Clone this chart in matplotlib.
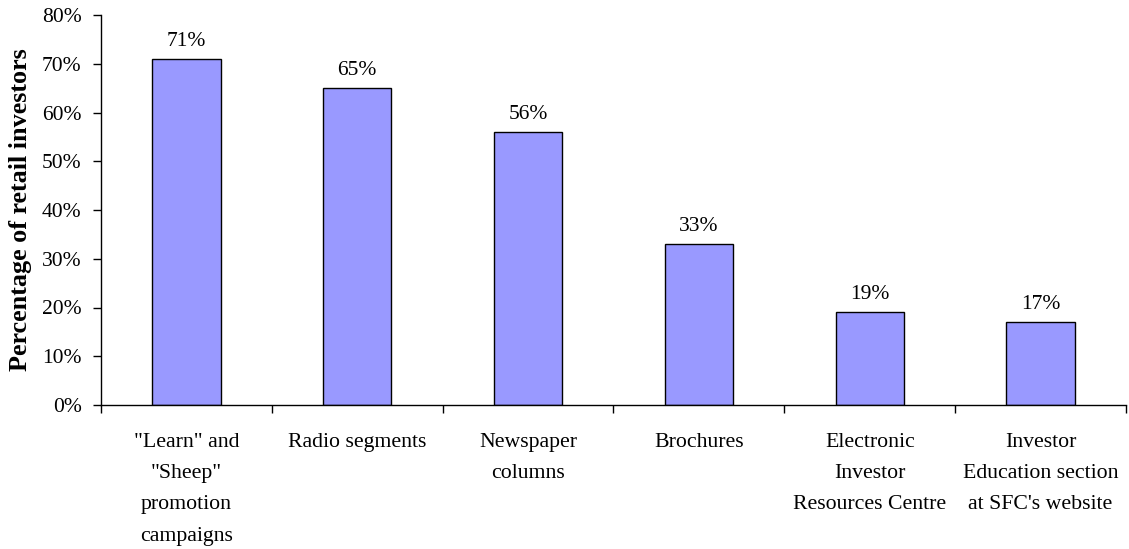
import matplotlib
matplotlib.use("Agg")
import matplotlib.pyplot as plt
from matplotlib.ticker import PercentFormatter, FixedLocator

categories = [
    '"Learn" and\n"Sheep"\npromotion\ncampaigns',
    'Radio segments',
    'Newspaper\ncolumns',
    'Brochures',
    'Electronic\nInvestor\nResources Centre',
    'Investor\nEducation section\nat SFC\'s website',
]
values = [71, 65, 56, 33, 19, 17]
y_ticks = [0, 10, 20, 30, 40, 50, 60, 70, 80]

plt.rcParams['font.family'] = ['Liberation Serif', 'DejaVu Serif']

fig = plt.figure(figsize=(11.29, 5.49), dpi=100)
ax = fig.add_axes([101 / 1129, 1 - 405 / 549, 1025 / 1129, 390 / 549])

x = list(range(len(categories)))
bars = ax.bar(x, values, width=0.4, color='#9999FF', edgecolor='black', linewidth=1.0)

for xi, v in zip(x, values):
    ax.annotate(f'{v}%', (xi, v), xytext=(0, 6), textcoords='offset points',
                ha='center', va='bottom', fontsize=15.5)

ax.set_xlim(-0.5, len(categories) - 0.5)
ax.set_ylim(0, 80)
ax.set_yticks(y_ticks)
ax.yaxis.set_major_formatter(PercentFormatter(decimals=0))

ax.set_xticks(x)
ax.set_xticklabels(categories, fontsize=15.7, linespacing=1.88)
ax.xaxis.set_minor_locator(FixedLocator([i - 0.5 for i in range(len(categories) + 1)]))
ax.tick_params(axis='x', which='major', length=0, pad=20)
ax.tick_params(axis='x', which='minor', length=6, width=1, direction='out')
ax.tick_params(axis='y', length=6, width=1, direction='out', pad=8, labelsize=15.5)

ax.spines['top'].set_visible(False)
ax.spines['right'].set_visible(False)
ax.spines['left'].set_linewidth(1)
ax.spines['bottom'].set_linewidth(1)

ax.set_ylabel('Percentage of retail investors', fontsize=18.8, fontweight='bold', labelpad=7)

fig.savefig('out.png', dpi=100)
